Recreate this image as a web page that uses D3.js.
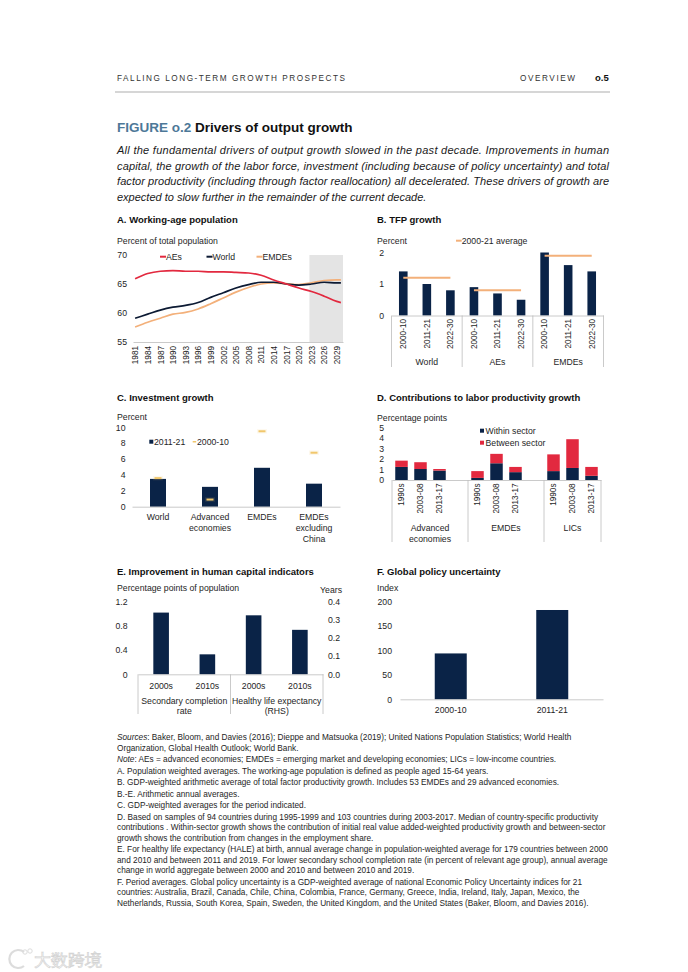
<!DOCTYPE html>
<html><head><meta charset="utf-8">
<script src="https://cdn.jsdelivr.net/npm/d3@7"></script>
<style>
body{margin:0;background:#fff}
svg{display:block}
text{font-family:"Liberation Sans",Arial,Helvetica,sans-serif}
</style>
</head><body>
<svg id="c" width="688" height="972"></svg>
<script>
// ---------------- DATA ----------------
// Panel A: working-age population (% of total)
const popYears = [1981,1984,1987,1990,1993,1996,1999,2002,2005,2008,2011,2014,2017,2020,2023,2026,2029,2030];
const popAEs   = [65.9,66.8,67.2,67.3,67.2,67.2,67.1,67.1,67.0,66.9,66.5,65.7,65.0,64.3,63.7,62.9,62.0,61.8];
const popWorld = [59.1,59.8,60.5,61.0,61.3,61.8,62.7,63.5,64.3,64.9,65.3,65.3,65.0,64.8,65.0,65.3,65.2,65.2];
const popEMDEs = [57.6,58.4,59.1,59.8,60.1,60.7,61.6,62.6,63.6,64.4,65.0,65.2,65.05,64.9,65.2,65.6,65.7,65.7];
const popTickYears = [1981,1984,1987,1990,1993,1996,1999,2002,2005,2008,2011,2014,2017,2020,2023,2026,2029];
const popTicksY = [55,60,65,70];

// Panel B: TFP growth
const tfpGroups  = ["World","AEs","EMDEs"];
const tfpPeriods = ["2000-10","2011-21","2022-30"];
const tfpWorld = [1.4,1.0,0.8];
const tfpAEs   = [0.9,0.7,0.5];
const tfpEMDEs = [2.0,1.6,1.4];
const tfpAverage = [1.2,0.8,1.9];
const tfpTicks = [0,1,2];

// Panel C: Investment growth
const invCats = [["World"],["Advanced","economies"],["EMDEs"],["EMDEs","excluding","China"]];
const inv2011_21 = [3.5,2.5,4.9,2.9];
const inv2000_10 = [3.6,0.9,9.5,6.8];
const invTicks = [0,2,4,6,8,10];

// Panel D: Contributions to labor productivity growth
const lpGroups  = [["Advanced","economies"],["EMDEs"],["LICs"]];
const lpPeriods = ["1990s","2003-08","2013-17"];
const lpWithin  = [[1.25,1.05,0.9],[0.2,1.6,0.75],[0.85,1.15,0.4]];
const lpBetween = [[0.6,0.65,0.15],[0.65,0.9,0.5],[1.6,2.75,0.85]];
const lpTicks = [0,1,2,3,4,5];

// Panel E: Human capital
const hcGroups = [["Secondary completion","rate"],["Healthy life expectancy","(RHS)"]];
const hcPeriods = ["2000s","2010s"];
const hcSecondary = [1.02,0.33];   // LHS, percentage points
const hcHALE = [0.325,0.245];      // RHS, years
const hcTicksL = [0,0.4,0.8,1.2];
const hcTicksR = [0,0.1,0.2,0.3,0.4];

// Panel F: Global policy uncertainty
const epuPeriods = ["2000-10","2011-21"];
const epuValues = [94,183];
const epuTicks = [0,50,100,150,200];

// ---------------- STYLE ----------------
const NAVY="#0a2347", RED="#e2293f", TAN="#f3b07a", GOLD="#f1c76c", AXIS="#bdbdbd", INK="#1e1e1e";
const FS=8.7;

const svg = d3.select("#c");
svg.append("rect").attr("width",688).attr("height",972).attr("fill","#fff");

function txt(g,x,y,s,o={}){
  const t=g.append("text").attr("x",x).attr("y",y).text(s)
    .attr("font-size",o.size||FS).attr("fill",o.fill||INK);
  if(o.anchor) t.attr("text-anchor",o.anchor);
  if(o.weight) t.attr("font-weight",o.weight);
  if(o.style) t.attr("font-style",o.style);
  if(o.len) t.attr("textLength",o.len).attr("lengthAdjust","spacing");
  if(o.dy) t.attr("dy",o.dy);
  return t;
}
function bandFor(keys,r0,r1,barW){
  const step=(r1-r0)/keys.length, p=1-barW/step;
  return d3.scaleBand().domain(keys).range([r0,r1]).paddingInner(p).paddingOuter(p/2);
}
function yAxis(scale,x,ticks,fmt,side,pad){
  const ax=(side==="right"?d3.axisRight(scale):d3.axisLeft(scale))
    .tickValues(ticks).tickSize(0).tickPadding(pad).tickFormat(fmt);
  const a=svg.append("g").attr("transform",`translate(${x},0)`).call(ax);
  a.select(".domain").remove();
  a.selectAll("text").attr("font-size",FS).attr("fill",INK)
    .attr("font-family",'"Liberation Sans",Arial,sans-serif');
  return a;
}
function xAxisBand(scale,y,fmt,rotate,size){
  const ax=d3.axisBottom(scale).tickSize(0).tickSizeOuter(0).tickFormat(fmt);
  const a=svg.append("g").attr("transform",`translate(0,${y})`).call(ax);
  a.select(".domain").attr("stroke",AXIS).attr("stroke-width",0.8);
  a.selectAll("text").attr("font-size",size||FS).attr("fill",INK)
    .attr("font-family",'"Liberation Sans",Arial,sans-serif');
  if(rotate){
    a.selectAll("text").attr("transform","rotate(-90)").attr("text-anchor","end")
      .attr("x",-3.5).attr("y",0).attr("dy","0.35em");
  }
  return a;
}
function vline(x,y1,y2){
  svg.append("line").attr("x1",x).attr("x2",x).attr("y1",y1).attr("y2",y2)
    .attr("stroke",AXIS).attr("stroke-width",0.8);
}

// ---------------- HEADER ----------------
txt(svg,117,80.5,"FALLING LONG-TERM GROWTH PROSPECTS",{size:8.2,len:228,fill:"#333"});
txt(svg,520,80.5,"OVERVIEW",{size:8.2,len:55,fill:"#333"});
txt(svg,595,80.5,"o.5",{size:9.5,weight:"bold",fill:"#111"});
svg.append("line").attr("x1",115).attr("x2",610).attr("y1",92).attr("y2",92)
  .attr("stroke","#c8c8c8").attr("stroke-width",1.6);

const title=svg.append("text").attr("x",117).attr("y",132).attr("font-size",13.5).attr("font-weight","bold");
title.append("tspan").attr("fill","#4d7898").text("FIGURE o.2");
title.append("tspan").attr("fill","#111").text(" Drivers of output growth");

const para=[
 "All the fundamental drivers of output growth slowed in the past decade. Improvements in human",
 "capital, the growth of the labor force, investment (including because of policy uncertainty) and total",
 "factor productivity (including through factor reallocation) all decelerated. These drivers of growth are",
 "expected to slow further in the remainder of the current decade."
];
const paraY=[154,169.5,185,200.5];
para.forEach((s,i)=>txt(svg,117,paraY[i],s,{size:11,style:"italic",fill:"#1a1a1a",len:i<3?492:null}));

// panel titles / axis titles
const titles=[[117,223,"A. Working-age population"],[377,223,"B. TFP growth"],
 [117,400.5,"C. Investment growth"],[377,400.5,"D. Contributions to labor productivity growth"],
 [117,575,"E. Improvement in human capital indicators"],[377,575,"F. Global policy uncertainty"]];
titles.forEach(t=>txt(svg,t[0],t[1],t[2],{size:9.5,weight:"bold",fill:"#111"}));
txt(svg,117,243.7,"Percent of total population");
txt(svg,377,243.7,"Percent");
txt(svg,117,420.3,"Percent");
txt(svg,377,421.3,"Percentage points");
txt(svg,117,590.7,"Percentage points of population");
txt(svg,342,593,"Years",{anchor:"end"});
txt(svg,377,590.7,"Index");

// ---------------- PANEL A ----------------
{
  const x=d3.scaleLinear().domain([1980.5,2030.5]).range([133,343]);
  const y=d3.scaleLinear().domain([55,70]).range([342,255]);
  svg.append("rect").attr("x",x(2022.5)).attr("y",y(70)).attr("width",x(2030.5)-x(2022.5))
    .attr("height",y(55)-y(70)).attr("fill","#e4e4e4");
  yAxis(y,133,popTicksY,d3.format("d"),"left",6);
  const ax=d3.axisBottom(x).tickValues(popTickYears).tickFormat(d3.format("d")).tickSize(0).tickSizeOuter(0);
  const a=svg.append("g").attr("transform",`translate(0,${y(55)})`).call(ax);
  a.select(".domain").attr("stroke",AXIS).attr("stroke-width",0.8);
  a.selectAll("text").attr("font-size",8.2).attr("fill",INK).attr("font-family",'"Liberation Sans",Arial,sans-serif')
    .attr("transform","rotate(-90)").attr("text-anchor","end").attr("x",-4).attr("y",0).attr("dy","0.35em");
  const line=d3.line().x((d,i)=>x(popYears[i])).y(d=>y(d)).curve(d3.curveMonotoneX);
  [[popEMDEs,TAN],[popWorld,"#0c1a33"],[popAEs,RED]].forEach(([s,c])=>{
    svg.append("path").attr("d",line(s)).attr("fill","none").attr("stroke",c).attr("stroke-width",1.7);
  });
  const leg=[[160,"AEs",RED],[206.5,"World","#0c1a33"],[256.5,"EMDEs",TAN]];
  leg.forEach(([lx,s,c])=>{
    svg.append("line").attr("x1",lx).attr("x2",lx+6).attr("y1",256.7).attr("y2",256.7).attr("stroke",c).attr("stroke-width",2);
    txt(svg,lx+6,256.7,s,{dy:"0.35em"});
  });
}

// ---------------- PANEL B ----------------
{
  const keys=[]; tfpGroups.forEach(g=>tfpPeriods.forEach(p=>keys.push(g+"|"+p)));
  const vals=[tfpWorld,tfpAEs,tfpEMDEs];
  const x=bandFor(keys,391.5,603.5,8.6);
  const y=d3.scaleLinear().domain([0,2]).range([315.5,252.5]);
  yAxis(y,391.5,tfpTicks,d3.format("d"),"left",7.5);
  tfpGroups.forEach((g,gi)=>tfpPeriods.forEach((p,pi)=>{
    const v=vals[gi][pi];
    svg.append("rect").attr("x",x(g+"|"+p)).attr("width",x.bandwidth())
      .attr("y",y(v)).attr("height",y(0)-y(v)).attr("fill",NAVY);
  }));
  tfpGroups.forEach((g,gi)=>{
    const x1=x(g+"|"+tfpPeriods[0])+x.bandwidth()/2, x2=x(g+"|"+tfpPeriods[2])+x.bandwidth()/2;
    svg.append("line").attr("x1",x1).attr("x2",x2).attr("y1",y(tfpAverage[gi])).attr("y2",y(tfpAverage[gi]))
      .attr("stroke",TAN).attr("stroke-width",2);
  });
  xAxisBand(x,y(0),k=>k.split("|")[1],true,8.2);
  for(let i=0;i<=3;i++) vline(391.5+i*3*x.step(),y(0),367);
  tfpGroups.forEach((g,gi)=>txt(svg,391.5+(gi*3+1.5)*x.step(),364.5,g,{anchor:"middle"}));
  svg.append("line").attr("x1",456).attr("x2",461.7).attr("y1",240.7).attr("y2",240.7).attr("stroke",TAN).attr("stroke-width",2);
  txt(svg,461.7,240.7,"2000-21 average",{dy:"0.35em"});
}

// ---------------- PANEL C ----------------
{
  const keys=invCats.map(c=>c.join(" "));
  const x=bandFor(keys,132,340,16);
  const y=d3.scaleLinear().domain([0,10]).range([506.7,427.3]);
  yAxis(y,132,invTicks,d3.format("d"),"left",6.5);
  keys.forEach((k,i)=>{
    svg.append("rect").attr("x",x(k)).attr("width",x.bandwidth()).attr("y",y(inv2011_21[i]))
      .attr("height",y(0)-y(inv2011_21[i])).attr("fill",NAVY);
  });
  keys.forEach((k,i)=>{
    const cx=x(k)+x.bandwidth()/2;
    svg.append("rect").attr("x",cx-5).attr("width",10).attr("y",y(inv2000_10[i])-2.2).attr("height",4.4)
      .attr("fill",GOLD).attr("opacity",0.12);
    svg.append("rect").attr("x",cx-3.5).attr("width",7).attr("y",y(inv2000_10[i])-1).attr("height",2)
      .attr("fill",GOLD);
  });
  const a=xAxisBand(x,y(0),()=>"",false);
  a.selectAll("text").remove();
  invCats.forEach((c,i)=>{
    const cx=x(keys[i])+x.bandwidth()/2;
    c.forEach((s,j)=>txt(svg,cx,520+j*10.8,s,{anchor:"middle"}));
  });
  svg.append("rect").attr("x",149.3).attr("y",439.7).attr("width",4).attr("height",4).attr("fill",NAVY);
  txt(svg,154,441.7,"2011-21",{dy:"0.35em"});
  svg.append("rect").attr("x",192.7).attr("y",441).attr("width",3.5).attr("height",1.5).attr("fill",GOLD);
  txt(svg,197,441.7,"2000-10",{dy:"0.35em"});
}

// ---------------- PANEL D ----------------
{
  const keys=[];
  lpGroups.forEach((g,gi)=>{
    lpPeriods.forEach(p=>keys.push(gi+"|"+p));
    if(gi<lpGroups.length-1) keys.push("gap"+gi);
  });
  const x=bandFor(keys,392,601,12.5);
  const y=d3.scaleLinear().domain([0,5]).range([480,427.7]);
  yAxis(y,392,lpTicks,d3.format("d"),"left",8);
  lpGroups.forEach((g,gi)=>lpPeriods.forEach((p,pi)=>{
    const w=lpWithin[gi][pi], b=lpBetween[gi][pi], k=gi+"|"+p;
    svg.append("rect").attr("x",x(k)).attr("width",x.bandwidth()).attr("y",y(w)).attr("height",y(0)-y(w)).attr("fill",NAVY);
    svg.append("rect").attr("x",x(k)).attr("width",x.bandwidth()).attr("y",y(w+b)).attr("height",y(w)-y(w+b)).attr("fill",RED);
  }));
  const a=xAxisBand(x,y(0),k=>k.startsWith("gap")?"":k.split("|")[1],true,8.2);
  const st=x.step(), x0=392;
  [0,4,8,11].forEach(s=>vline(x0+s*st,y(0),542));
  const spans=[[0,4],[4,8],[8,11]];
  lpGroups.forEach((g,gi)=>{
    const cx=x0+(spans[gi][0]+spans[gi][1])/2*st;
    g.forEach((s,j)=>txt(svg,cx,531+j*10.8,s,{anchor:"middle"}));
  });
  svg.append("rect").attr("x",480).attr("y",428.7).attr("width",4).attr("height",4).attr("fill",NAVY);
  txt(svg,485.5,430.7,"Within sector",{dy:"0.35em"});
  svg.append("rect").attr("x",480).attr("y",440.7).attr("width",4).attr("height",4).attr("fill",RED);
  txt(svg,485.5,442.7,"Between sector",{dy:"0.35em"});
}

// ---------------- PANEL E ----------------
{
  const keys=[]; hcGroups.forEach((g,gi)=>hcPeriods.forEach(p=>keys.push(gi+"|"+p)));
  const x=bandFor(keys,138,323,15.6);
  const yL=d3.scaleLinear().domain([0,1.2]).range([674.3,601.7]);
  const yR=d3.scaleLinear().domain([0,0.4]).range([674.3,601.7]);
  yAxis(yL,138,hcTicksL,d=>d===0?"0":d3.format(".1f")(d),"left",10.5);
  yAxis(yR,323,hcTicksR,d3.format(".1f"),"right",5);
  hcPeriods.forEach((p,pi)=>{
    const v=hcSecondary[pi];
    svg.append("rect").attr("x",x("0|"+p)).attr("width",x.bandwidth()).attr("y",yL(v)).attr("height",yL(0)-yL(v)).attr("fill",NAVY);
    const r=hcHALE[pi];
    svg.append("rect").attr("x",x("1|"+p)).attr("width",x.bandwidth()).attr("y",yR(r)).attr("height",yR(0)-yR(r)).attr("fill",NAVY);
  });
  const a=xAxisBand(x,yL(0),k=>k.split("|")[1],false);
  a.selectAll("text").attr("y",null).attr("dy",null).attr("transform","translate(0,14.7)");
  const st=x.step();
  [0,2,4].forEach(s=>vline(138+s*st,yL(0),714));
  hcGroups.forEach((g,gi)=>{
    const cx=138+(gi*2+1)*st;
    g.forEach((s,j)=>txt(svg,cx,703.5+j*10.8,s,{anchor:"middle"}));
  });
}

// ---------------- PANEL F ----------------
{
  const x=bandFor(epuPeriods,400,603,32);
  const y=d3.scaleLinear().domain([0,200]).range([699.3,601.7]);
  yAxis(y,400,epuTicks,d3.format("d"),"left",8);
  epuPeriods.forEach((p,i)=>{
    svg.append("rect").attr("x",x(p)).attr("width",x.bandwidth()).attr("y",y(epuValues[i]))
      .attr("height",y(0)-y(epuValues[i])).attr("fill",NAVY);
  });
  const a=xAxisBand(x,y(0),d=>d,false);
  a.selectAll("text").attr("y",null).attr("dy",null).attr("transform","translate(0,14)");
}

// ---------------- FOOTNOTES ----------------
{
  const notes=[
   [["Sources",true],[": Baker, Bloom, and Davies (2016); Dieppe and Matsuoka (2019); United Nations Population Statistics; World Health",false]],
   [["Organization, Global Health Outlook; World Bank.",false]],
   [["Note",true],[": AEs = advanced economies; EMDEs = emerging market and developing economies; LICs = low-income countries.",false]],
   [["A. Population weighted averages. The working-age population is defined as people aged 15-64 years.",false]],
   [["B. GDP-weighted arithmetic average of total factor productivity growth. Includes 53 EMDEs and 29 advanced economies.",false]],
   [["B.-E. Arithmetic annual averages.",false]],
   [["C. GDP-weighted averages for the period indicated.",false]],
   [["D. Based on samples of 94 countries during 1995-1999 and 103 countries during 2003-2017. Median of country-specific productivity",false]],
   [["contributions . Within-sector growth shows the contribution of initial real value added-weighted productivity growth and between-sector",false]],
   [["growth shows the contribution from changes in the employment share.",false]],
   [["E. For healthy life expectancy (HALE) at birth, annual average change in population-weighted average for 179 countries between 2000",false]],
   [["and 2010 and between 2011 and 2019. For lower secondary school completion rate (in percent of relevant age group), annual average",false]],
   [["change in world aggregate between 2000 and 2010 and between 2010 and 2019.",false]],
   [["F. Period averages. Global policy uncertainty is a GDP-weighted average of national Economic Policy Uncertainty indices for 21",false]],
   [["countries: Australia, Brazil, Canada, Chile, China, Colombia, France, Germany, Greece, India, Ireland, Italy, Japan, Mexico, the",false]],
   [["Netherlands, Russia, South Korea, Spain, Sweden, the United Kingdom, and the United States (Baker, Bloom, and Davies 2016).",false]]
  ];
  const cont=[false,true,false,false,false,false,false,false,true,true,false,true,true,false,true,true];
  let yy=740;
  notes.forEach((parts,i)=>{
    if(i>0) yy+=cont[i]?10.5:11.5;
    const t=svg.append("text").attr("x",117).attr("y",yy).attr("font-size",8.25).attr("fill","#1e1e1e");
    parts.forEach(([s,it])=>{const ts=t.append("tspan").text(s); if(it) ts.attr("font-style","italic");});
  });
}

// ---------------- WATERMARK ----------------
{
  const g=svg.append("g").attr("opacity",0.5);
  g.append("path").attr("d","M24,952 A9,9 0 1,0 24,966").attr("fill","none").attr("stroke","#bbb").attr("stroke-width",2.2);
  g.append("circle").attr("cx",25).attr("cy",952).attr("r",2.2).attr("fill","none").attr("stroke","#bbb").attr("stroke-width",1);
  g.append("circle").attr("cx",30).attr("cy",951).attr("r",2.2).attr("fill","none").attr("stroke","#bbb").attr("stroke-width",1);
  g.append("text").attr("x",34).attr("y",966).attr("font-size",16.5)
    .attr("font-family",'"Noto Sans CJK SC",sans-serif').attr("fill","#fafafa")
    .attr("stroke","#aaa").attr("stroke-width",0.7).text("大数跨境");
}
</script>
</body></html>
